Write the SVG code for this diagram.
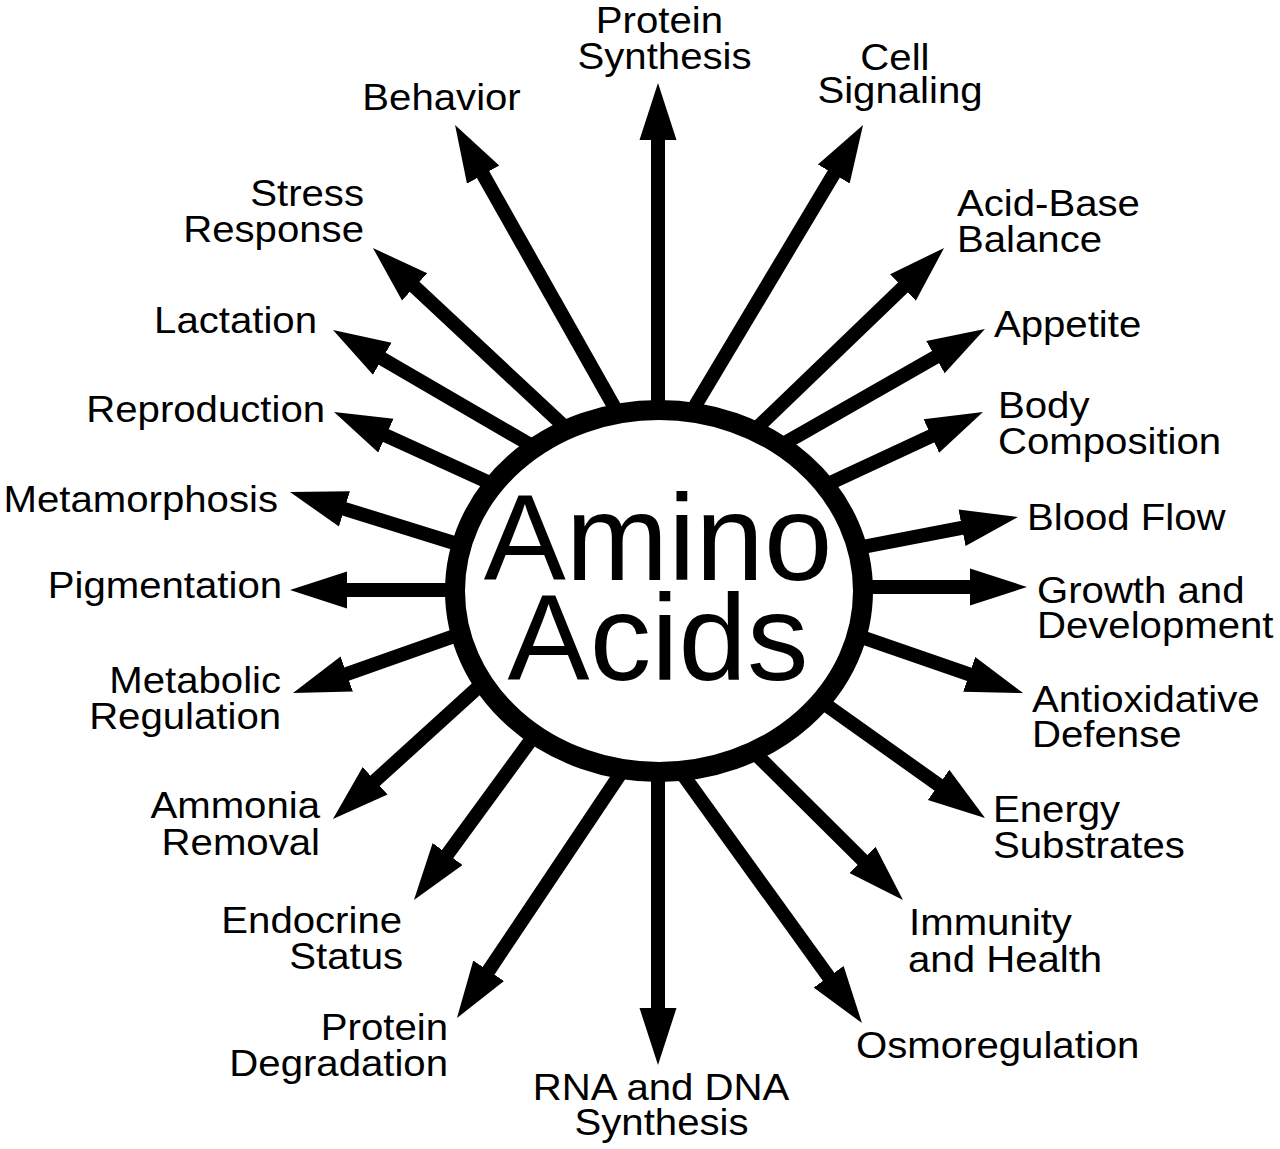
<svg xmlns="http://www.w3.org/2000/svg" width="1280" height="1149" viewBox="0 0 1280 1149">
<style>
.lbl{font-family:"Liberation Sans",Arial,Helvetica,sans-serif;font-size:36.5px;fill:#000}
.s{text-anchor:start}.e{text-anchor:end}.m{text-anchor:middle}
.big{font-family:"Liberation Sans",Arial,Helvetica,sans-serif;font-size:123px;fill:#000;text-anchor:middle}
.arr{stroke:#000;stroke-width:14;fill:none;marker-end:url(#head)}
</style>
<defs>
<marker id="head" markerUnits="userSpaceOnUse" markerWidth="60" markerHeight="40" viewBox="0 -20 60 40" refX="1" refY="0" orient="auto">
<path d="M0,-18.5 L57,0 L0,18.5 Z" fill="#000"/>
</marker>
</defs>
<rect width="1280" height="1149" fill="#fff"/>
<g id="connectors">
<line class="arr" x1="658" y1="520" x2="658" y2="139"/>
<line class="arr" x1="643.9" y1="491.5" x2="834.3" y2="173.1"/>
<line class="arr" x1="681.7" y1="500.4" x2="903.7" y2="286.8"/>
<line class="arr" x1="692.2" y1="495.9" x2="936.3" y2="356.7"/>
<line class="arr" x1="720.9" y1="533.8" x2="932.2" y2="435.6"/>
<line class="arr" x1="737.1" y1="571.1" x2="963" y2="527.6"/>
<line class="arr" x1="700" y1="587" x2="971" y2="587"/>
<line class="arr" x1="740.4" y1="595.2" x2="970.1" y2="674.7"/>
<line class="arr" x1="725.8" y1="633.6" x2="939.4" y2="785.5"/>
<line class="arr" x1="679.3" y1="678.2" x2="863.2" y2="860.6"/>
<line class="arr" x1="628.6" y1="699.4" x2="829.2" y2="977.6"/>
<line class="arr" x1="658" y1="650" x2="658" y2="1009"/>
<line class="arr" x1="676.1" y1="690.6" x2="488.1" y2="971.5"/>
<line class="arr" x1="600.4" y1="645" x2="447" y2="854.8"/>
<line class="arr" x1="569" y1="604.6" x2="374.4" y2="781.4"/>
<line class="arr" x1="575.9" y1="593.1" x2="345.8" y2="674.4"/>
<line class="arr" x1="600" y1="590" x2="346" y2="590"/>
<line class="arr" x1="577.5" y1="581.4" x2="343.5" y2="508.6"/>
<line class="arr" x1="597.9" y1="532.1" x2="385" y2="435.2"/>
<line class="arr" x1="623.3" y1="499" x2="381.4" y2="358.2"/>
<line class="arr" x1="639.8" y1="496.9" x2="413.9" y2="286.2"/>
<line class="arr" x1="665.1" y1="496.9" x2="482.6" y2="173.8"/>
</g>
<g id="amino-acids">
<ellipse cx="659" cy="591" rx="204" ry="181" fill="#fff" stroke="#000" stroke-width="20"/>
<text class="big" x="658" y="580">Amino</text>
<text class="big" x="658" y="680">Acids</text>
</g>
<g id="protein-synthesis" transform="scale(1.1 1)"><text class="lbl m" x="599.5" y="33">Protein</text><text class="lbl m" x="604.1" y="69">Synthesis</text></g>
<g id="cell-signaling" transform="scale(1.1 1)"><text class="lbl m" x="813.6" y="70">Cell</text><text class="lbl m" x="818.2" y="103">Signaling</text></g>
<g id="acid-base-balance" transform="scale(1.1 1)"><text class="lbl s" x="870" y="216">Acid-Base</text><text class="lbl s" x="870" y="252">Balance</text></g>
<g id="appetite" transform="scale(1.1 1)"><text class="lbl s" x="903.6" y="337">Appetite</text></g>
<g id="body-composition" transform="scale(1.1 1)"><text class="lbl s" x="907.3" y="418">Body</text><text class="lbl s" x="907.3" y="454">Composition</text></g>
<g id="blood-flow" transform="scale(1.1 1)"><text class="lbl s" x="933.6" y="530">Blood Flow</text></g>
<g id="growth-development" transform="scale(1.1 1)"><text class="lbl s" x="942.7" y="603">Growth and</text><text class="lbl s" x="942.7" y="638">Development</text></g>
<g id="antioxidative-defense" transform="scale(1.1 1)"><text class="lbl s" x="938.2" y="712">Antioxidative</text><text class="lbl s" x="938.2" y="747">Defense</text></g>
<g id="energy-substrates" transform="scale(1.1 1)"><text class="lbl s" x="902.7" y="822">Energy</text><text class="lbl s" x="902.7" y="858">Substrates</text></g>
<g id="immunity-health" transform="scale(1.1 1)"><text class="lbl s" x="826.4" y="935">Immunity</text><text class="lbl s" x="825.5" y="972">and Health</text></g>
<g id="osmoregulation" transform="scale(1.1 1)"><text class="lbl s" x="778.2" y="1058">Osmoregulation</text></g>
<g id="rna-dna-synthesis" transform="scale(1.1 1)"><text class="lbl m" x="600.9" y="1100">RNA and DNA</text><text class="lbl m" x="601.4" y="1135">Synthesis</text></g>
<g id="protein-degradation" transform="scale(1.1 1)"><text class="lbl e" x="407.3" y="1040">Protein</text><text class="lbl e" x="407.3" y="1076">Degradation</text></g>
<g id="endocrine-status" transform="scale(1.1 1)"><text class="lbl e" x="365.5" y="933">Endocrine</text><text class="lbl e" x="366.4" y="969">Status</text></g>
<g id="ammonia-removal" transform="scale(1.1 1)"><text class="lbl e" x="290.9" y="818">Ammonia</text><text class="lbl e" x="290.9" y="855">Removal</text></g>
<g id="metabolic-regulation" transform="scale(1.1 1)"><text class="lbl e" x="255.5" y="693">Metabolic</text><text class="lbl e" x="255.5" y="729">Regulation</text></g>
<g id="pigmentation" transform="scale(1.1 1)"><text class="lbl e" x="256.4" y="598">Pigmentation</text></g>
<g id="metamorphosis" transform="scale(1.1 1)"><text class="lbl e" x="252.7" y="512">Metamorphosis</text></g>
<g id="reproduction" transform="scale(1.1 1)"><text class="lbl e" x="295.5" y="422">Reproduction</text></g>
<g id="lactation" transform="scale(1.1 1)"><text class="lbl e" x="288.2" y="333">Lactation</text></g>
<g id="stress-response" transform="scale(1.1 1)"><text class="lbl e" x="330.9" y="206">Stress</text><text class="lbl e" x="330.9" y="242">Response</text></g>
<g id="behavior" transform="scale(1.1 1)"><text class="lbl m" x="401.4" y="110">Behavior</text></g>
</svg>
